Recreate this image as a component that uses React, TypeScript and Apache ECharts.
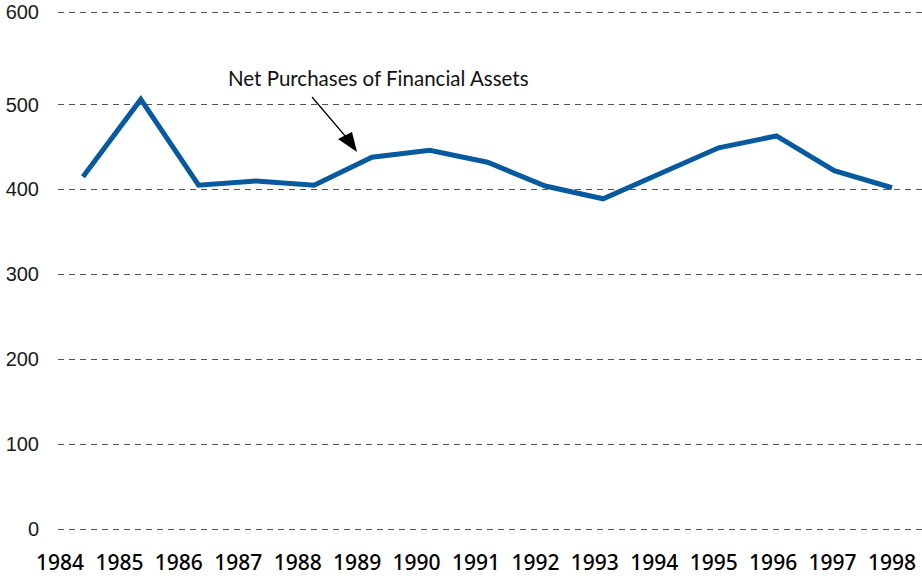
import React, { useEffect, useRef } from 'react';
import * as echarts from 'echarts';

const years = ['1984', '1985', '1986', '1987', '1988', '1989', '1990', '1991', '1992', '1993', '1994', '1995', '1996', '1997', '1998'];
const netPurchases = [415, 506, 405, 410, 405, 438, 446, 432, 404, 389, 419, 449, 463, 422, 402];
const yTickValues = [0, 100, 200, 300, 400, 500, 609];
const yTickLabels = ['0', '100', '200', '300', '400', '500', '600'];
const yMax = 609;
const annotationText = 'Net Purchases of Financial Assets';

export default function App() {
  const ref = useRef<HTMLDivElement>(null);
  useEffect(() => {
    if (!ref.current) return;
    const chart = echarts.init(ref.current, null, { renderer: 'svg' });
    const top = 12;
    const bottom = 47;
    const yBase = { type: 'value', min: 0, max: yMax };
    chart.setOption({
      animation: false,
      backgroundColor: '#ffffff',
      grid: [
        { left: 58, right: 0, top, bottom, containLabel: false },
        { left: 60, right: 30, top, bottom, containLabel: false },
        { left: 83, right: 30, top, bottom, containLabel: false },
      ],
      xAxis: [
        { type: 'category', gridIndex: 0, data: years, show: false, boundaryGap: false },
        {
          type: 'category', gridIndex: 1, data: years, boundaryGap: false,
          axisLine: { show: false }, axisTick: { show: false }, splitLine: { show: false },
          axisLabel: { show: true, interval: 0, margin: 22, fontSize: 21, fontWeight: 500, fontFamily: 'Noto Sans', color: '#000000' },
        },
        { type: 'category', gridIndex: 2, data: years, show: false, boundaryGap: false },
      ],
      yAxis: [
        {
          ...yBase, gridIndex: 0,
          axisLine: { show: false },
          axisTick: { show: false, customValues: yTickValues },
          axisLabel: {
            show: true, margin: 19, fontSize: 20, fontFamily: 'Liberation Sans', color: '#1a1a1a',
            customValues: yTickValues,
            formatter: (v: number) => {
              const i = yTickValues.indexOf(v);
              return i >= 0 ? yTickLabels[i] : '';
            },
          },
          splitLine: { show: true, lineStyle: { type: [6, 5], color: '#555555', width: 1 } },
        },
        { ...yBase, gridIndex: 1, show: false, splitLine: { show: false } },
        { ...yBase, gridIndex: 2, show: false, splitLine: { show: false } },
      ],
      series: [
        {
          type: 'line', xAxisIndex: 2, yAxisIndex: 2, data: netPurchases,
          symbol: 'none', lineStyle: { color: '#075a9d', width: 5, join: 'miter' }, z: 5,
        },
      ],
      graphic: [
        {
          type: 'text', left: 228, top: 67,
          style: { text: annotationText, fontSize: 20.5, fontFamily: 'Lato', fill: '#111111' },
        },
        {
          type: 'line', shape: { x1: 312, y1: 97, x2: 346, y2: 137 },
          style: { stroke: '#000000', lineWidth: 1.2 },
        },
        {
          type: 'polygon', shape: { points: [[338, 139], [352, 132], [357, 152]] },
          style: { fill: '#000000' },
        },
      ],
    });
    return () => chart.dispose();
  }, []);
  return <div ref={ref} style={{ width: 922, height: 576, position: 'absolute', left: 0, top: 0 }} />;
}
